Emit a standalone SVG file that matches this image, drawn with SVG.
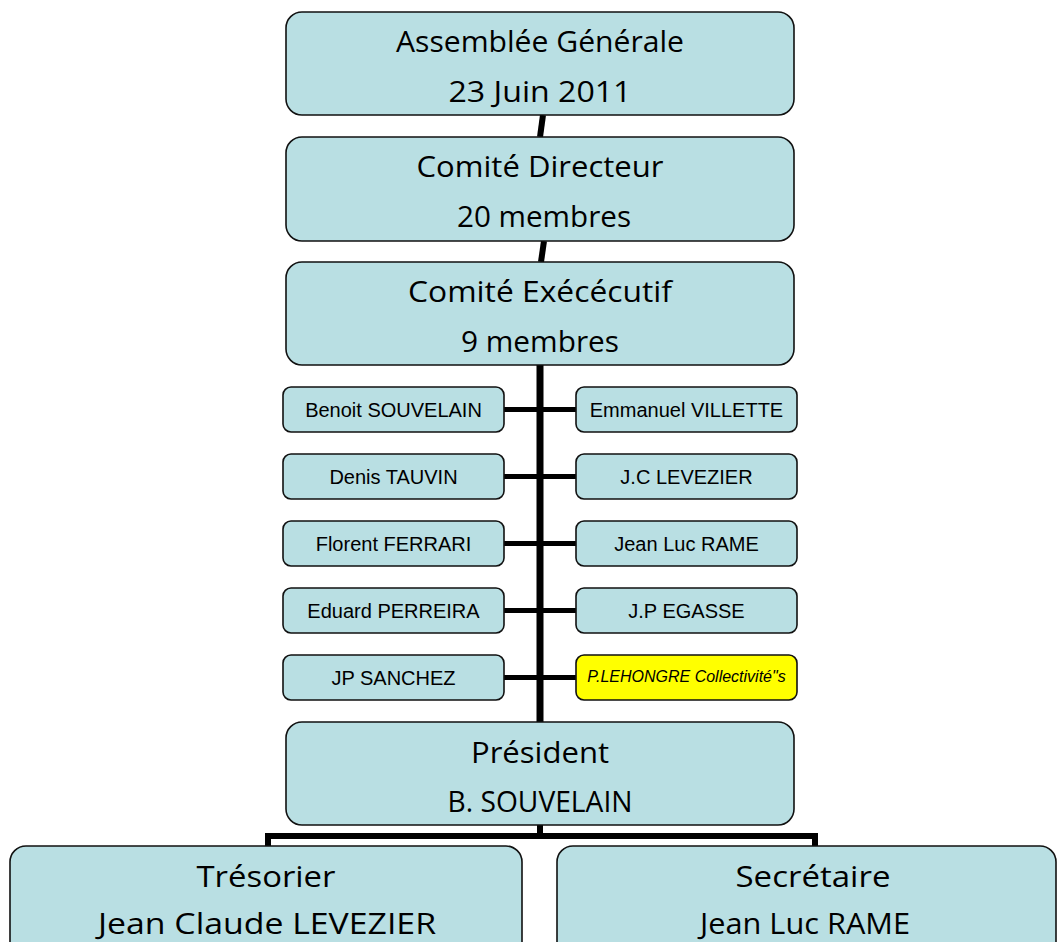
<svg xmlns="http://www.w3.org/2000/svg" width="1058" height="942" viewBox="0 0 1058 942">
<style>
.big{fill:#B9DFE3;stroke:#111;stroke-width:1.6}
.small{fill:#B9DFE3;stroke:#111;stroke-width:1.6}
.yel{fill:#FFFF00;stroke:#111;stroke-width:1.6}
.bt{font-family:"Open Sans","DejaVu Sans",sans-serif;font-size:29px;fill:#000;text-anchor:middle}
.st{font-family:"Liberation Sans",Arial,sans-serif;font-size:20px;fill:#000;text-anchor:middle}
.it{font-family:"Liberation Sans",Arial,sans-serif;font-size:16px;font-style:italic;fill:#000;text-anchor:middle}
.c{stroke:#000;fill:none}
</style>
<rect width="1058" height="942" fill="#fff"/>
<g id="connectors">
<line class="c" x1="543" y1="115" x2="540" y2="137" stroke-width="6"/>
<line class="c" x1="544" y1="241" x2="541" y2="262" stroke-width="6"/>
<line class="c" x1="540" y1="365" x2="540" y2="722" stroke-width="7"/>
<line class="c" x1="504" y1="409.5" x2="576" y2="409.5" stroke-width="5"/>
<line class="c" x1="504" y1="476.5" x2="576" y2="476.5" stroke-width="5"/>
<line class="c" x1="504" y1="543.5" x2="576" y2="543.5" stroke-width="5"/>
<line class="c" x1="504" y1="610.5" x2="576" y2="610.5" stroke-width="5"/>
<line class="c" x1="504" y1="677.5" x2="576" y2="677.5" stroke-width="5"/>
<line class="c" x1="540" y1="825" x2="540" y2="836" stroke-width="6"/>
<polyline class="c" points="268,846 268,836 815,836 815,846" stroke-width="6"/>
</g>
<g id="assemblee">
<rect class="big" x="286" y="12" width="508" height="103" rx="16"/>
<text class="bt" x="540" y="52" textLength="288" lengthAdjust="spacingAndGlyphs">Assemblée Générale</text>
<text class="bt" x="540" y="102" textLength="183" lengthAdjust="spacingAndGlyphs">23 Juin 2011</text>
</g>
<g id="directeur">
<rect class="big" x="286" y="137" width="508" height="104" rx="16"/>
<text class="bt" x="540" y="177" textLength="247" lengthAdjust="spacingAndGlyphs">Comité Directeur</text>
<text class="bt" x="544" y="227" textLength="174" lengthAdjust="spacingAndGlyphs">20 membres</text>
</g>
<g id="executif">
<rect class="big" x="286" y="262" width="508" height="103" rx="16"/>
<text class="bt" x="540" y="302" textLength="264" lengthAdjust="spacingAndGlyphs">Comité Exécécutif</text>
<text class="bt" x="540" y="352" textLength="158" lengthAdjust="spacingAndGlyphs">9 membres</text>
</g>
<g id="m1"><rect class="small" x="283" y="387" width="221" height="45" rx="8"/><text class="st" x="393.5" y="417">Benoit SOUVELAIN</text></g>
<g id="m2"><rect class="small" x="576" y="387" width="221" height="45" rx="8"/><text class="st" x="686.5" y="417">Emmanuel VILLETTE</text></g>
<g id="m3"><rect class="small" x="283" y="454" width="221" height="45" rx="8"/><text class="st" x="393.5" y="484">Denis TAUVIN</text></g>
<g id="m4"><rect class="small" x="576" y="454" width="221" height="45" rx="8"/><text class="st" x="686.5" y="484">J.C LEVEZIER</text></g>
<g id="m5"><rect class="small" x="283" y="521" width="221" height="45" rx="8"/><text class="st" x="393.5" y="551">Florent FERRARI</text></g>
<g id="m6"><rect class="small" x="576" y="521" width="221" height="45" rx="8"/><text class="st" x="686.5" y="551">Jean Luc RAME</text></g>
<g id="m7"><rect class="small" x="283" y="588" width="221" height="45" rx="8"/><text class="st" x="393.5" y="618">Eduard PERREIRA</text></g>
<g id="m8"><rect class="small" x="576" y="588" width="221" height="45" rx="8"/><text class="st" x="686.5" y="618">J.P EGASSE</text></g>
<g id="m9"><rect class="small" x="283" y="655" width="221" height="45" rx="8"/><text class="st" x="393.5" y="685">JP SANCHEZ</text></g>
<g id="m10"><rect class="yel" x="576" y="655" width="221" height="45" rx="8"/><text class="it" x="686.5" y="682">P.LEHONGRE Collectivité"s</text></g>
<g id="president">
<rect class="big" x="286" y="722" width="508" height="103" rx="16"/>
<text class="bt" x="540" y="763" textLength="138" lengthAdjust="spacingAndGlyphs">Président</text>
<text class="bt" x="540" y="812" textLength="185" lengthAdjust="spacingAndGlyphs">B. SOUVELAIN</text>
</g>
<g id="tresorier">
<rect class="big" x="10" y="846" width="512" height="120" rx="16"/>
<text class="bt" x="266" y="887" textLength="139" lengthAdjust="spacingAndGlyphs">Trésorier</text>
<text class="bt" x="267" y="934" font-size="28" textLength="338" lengthAdjust="spacingAndGlyphs">Jean Claude LEVEZIER</text>
</g>
<g id="secretaire">
<rect class="big" x="557" y="846" width="499" height="120" rx="16"/>
<text class="bt" x="813" y="887" textLength="155" lengthAdjust="spacingAndGlyphs">Secrétaire</text>
<text class="bt" x="805" y="934" font-size="28" textLength="210" lengthAdjust="spacingAndGlyphs">Jean Luc RAME</text>
</g>
</svg>
